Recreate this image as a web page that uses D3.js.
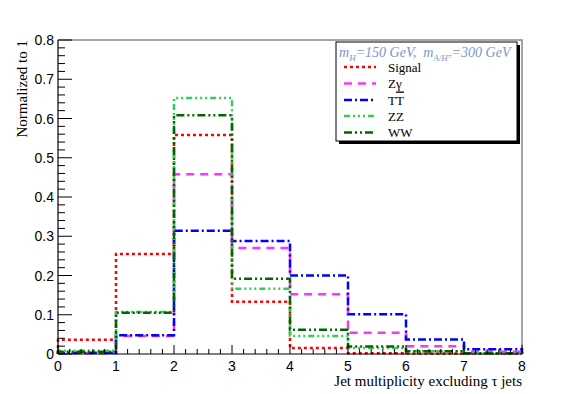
<!DOCTYPE html>
<html><head><meta charset="utf-8">
<script src="https://cdn.jsdelivr.net/npm/d3@7"></script>
<style>body{margin:0;background:#fff}svg{display:block}text{white-space:pre}</style>
</head><body>
<svg id="c" width="581" height="394"></svg>
<script>
const binEdges = [0,1,2,3,4,5,6,7,8];
const seriesNames = ["Signal","Zγ","TT","ZZ","WW"];
const signal = [0.036, 0.255, 0.558, 0.133, 0.015, 0.002, 0.001, 0.001];
const zgamma = [0.002, 0.046, 0.458, 0.270, 0.152, 0.054, 0.020, 0.006];
const ttbar  = [0.003, 0.048, 0.314, 0.288, 0.200, 0.101, 0.037, 0.012];
const zz     = [0.008, 0.107, 0.652, 0.166, 0.046, 0.015, 0.007, 0.002];
const ww     = [0.006, 0.105, 0.608, 0.192, 0.062, 0.019, 0.007, 0.002];
const yTicks = [0,0.1,0.2,0.3,0.4,0.5,0.6,0.7,0.8];
const xTicks = [0,1,2,3,4,5,6,7,8];

const styles = [
  {c:"#ff0000", d:"3,3"},
  {c:"#ff33ff", d:"8,6"},
  {c:"#0000ff", d:"8,3,2,3"},
  {c:"#33cc55", d:"6,3,2,3,2,3,2,3"},
  {c:"#006600", d:"8,3,2,3,2,3"}
];
const data = [signal, zgamma, ttbar, zz, ww];

const svg = d3.select("#c");
const L=58, R=522, T=40, B=354;
const x = d3.scaleLinear().domain([0,8]).range([L,R]);
const y = d3.scaleLinear().domain([0,0.8]).range([B,T]);

svg.append("path").attr("d",`M${L},${T}H${R}V${B}`).attr("fill","none").attr("stroke","#888").attr("stroke-width",1.5);

data.forEach((vals,i)=>{
  const pts=[[binEdges[0],0]];
  vals.forEach((v,k)=>{pts.push([binEdges[k],v]);pts.push([binEdges[k+1],v]);});
  pts.push([binEdges[binEdges.length-1],0]);
  const line=d3.line().x(p=>x(p[0])).y(p=>y(p[1]));
  svg.append("path").attr("d",line(pts)).attr("fill","none")
    .attr("stroke",styles[i].c).attr("stroke-width",2.5).attr("stroke-dasharray",styles[i].d);
});

const font="'Liberation Sans', Arial, sans-serif";
const gx=svg.append("g").attr("transform",`translate(0,${B})`);
gx.append("line").attr("x1",L).attr("x2",R).attr("stroke","#000").attr("stroke-width",1.2);
const xMinor=d3.range(0,8.001,0.2);
gx.selectAll("line.mn").data(xMinor).enter().append("line")
  .attr("x1",d=>x(d)).attr("x2",d=>x(d)).attr("y1",0)
  .attr("y2",d=>Math.abs(d-Math.round(d))<1e-6?-9:-5).attr("stroke","#000").attr("stroke-width",1);
gx.selectAll("text").data(xTicks).enter().append("text")
  .attr("x",d=>x(d)).attr("y",17).attr("text-anchor","middle")
  .attr("font-family",font).attr("font-size",14).text(d=>d);

const gy=svg.append("g");
gy.append("line").attr("x1",L).attr("x2",L).attr("y1",T).attr("y2",B).attr("stroke","#000").attr("stroke-width",1.2);
const yMinor=d3.range(0,0.8001,0.02);
gy.selectAll("line.mn").data(yMinor).enter().append("line")
  .attr("y1",d=>y(d)).attr("y2",d=>y(d)).attr("x1",L)
  .attr("x2",(d,i)=>i%5===0?L+14:L+7).attr("stroke","#000").attr("stroke-width",1);
gy.selectAll("text").data(yTicks).enter().append("text")
  .attr("x",L-4).attr("y",d=>y(d)+5).attr("text-anchor","end")
  .attr("font-family",font).attr("font-size",14).text(d=>d===0?"0":d.toFixed(1));

const serif="'Liberation Serif','Times New Roman',serif";
svg.append("text").attr("x",R).attr("y",386).attr("text-anchor","end")
  .attr("font-family",serif).attr("font-size",15).text("Jet multiplicity excluding τ jets");
svg.append("text").attr("transform",`translate(27,${T}) rotate(-90)`).attr("text-anchor","end")
  .attr("font-family",serif).attr("font-size",15).text("Normalized to 1");

const lx=336, ly=42, lw=181, lh=99;
svg.append("rect").attr("x",lx+3).attr("y",ly+3).attr("width",lw).attr("height",lh).attr("fill","#000");
svg.append("rect").attr("x",lx).attr("y",ly).attr("width",lw).attr("height",lh).attr("fill","#fff").attr("stroke","#000").attr("stroke-width",1);
const hdr=svg.append("text").attr("x",lx+3).attr("y",ly+15).attr("font-family",serif)
  .attr("font-style","italic").attr("font-size",14).attr("fill","#7a96cc");
hdr.append("tspan").text("m");
hdr.append("tspan").attr("dy",4).attr("font-size",9).text("H");
hdr.append("tspan").attr("dy",-4).text("=150 GeV,  m");
hdr.append("tspan").attr("dy",4).attr("font-size",9).text("A/H");
hdr.append("tspan").attr("dy",-3).attr("font-size",7).text("±");
hdr.append("tspan").attr("dy",-1).text("=300 GeV");

const rowY=[67,83.5,100,116,132.5];
seriesNames.forEach((nm,i)=>{
  svg.append("line").attr("x1",lx+8).attr("x2",lx+40).attr("y1",rowY[i]).attr("y2",rowY[i])
    .attr("stroke",styles[i].c).attr("stroke-width",2.5).attr("stroke-dasharray",styles[i].d);
  const t=svg.append("text").attr("x",lx+52).attr("y",rowY[i]+4.5).attr("font-family",serif).attr("font-size",13);
  if(nm==="TT"){
    t.append("tspan").text("T");
    t.append("tspan").attr("text-decoration","overline").text("T");
  } else t.text(nm);
});
</script>
</body></html>
